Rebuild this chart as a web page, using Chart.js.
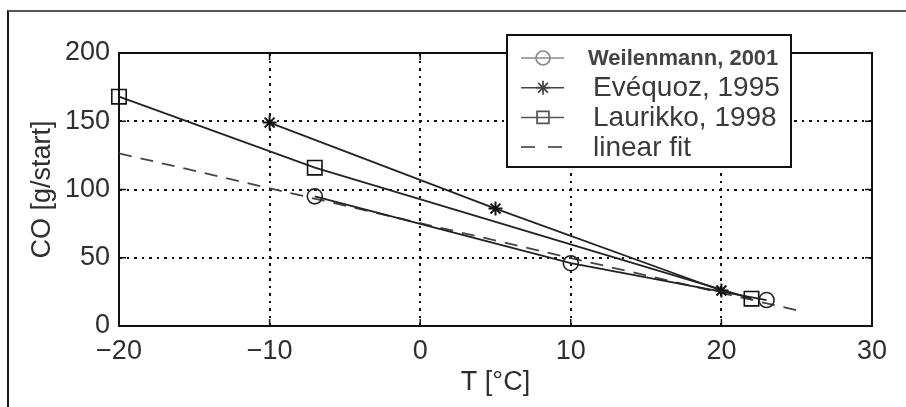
<!DOCTYPE html>
<html>
<head>
<meta charset="utf-8">
<script src="https://cdn.jsdelivr.net/npm/chart.js@4/dist/chart.umd.min.js"></script>
<style>
html, body { margin: 0; padding: 0; background: #fff; overflow: hidden; }
#wrap { position: relative; width: 906px; height: 407px; overflow: hidden; }
#frame { position: absolute; left: 7px; top: 10px; width: 940px; height: 440px;
         border-top: 2px solid #555; border-left: 2px solid #1a1a1a; pointer-events: none; }
</style>
</head>
<body>
<div id="wrap">
  <canvas id="coChart" width="906" height="407"></canvas>
  <div id="frame"></div>
</div>
<script>
// values
const seriesNames = ['Weilenmann, 2001', 'Evéquoz, 1995', 'Laurikko, 1998', 'linear fit'];
const weilT = [-7, 10, 23];
const weilCO = [95, 46, 19];
const eveqT = [-10, 5, 20];
const eveqCO = [149, 86, 26];
const laurT = [-20, -7, 22];
const laurCO = [168, 116, 20];
const fitT = [-20, 25];
const fitCO = [126.5, 11.5];
const xTicks = [-20, -10, 0, 10, 20, 30];
const yTicks = [0, 50, 100, 150, 200];

const FONT = "'Liberation Sans', Arial, sans-serif";
const ink = '#2e2e2e';

function pts(xs, ys) {
    return xs.map((t, i) => ({ x: t, y: ys[i] }));
}

function gridColor(ctx) {
    let first = ctx.index === 0;
    let last = ctx.scale && ctx.index === ctx.scale.ticks.length - 1;
    return (first || last) ? 'rgba(0,0,0,0)' : '#111';
}

// matlab style box with inward ticks
const boxPlugin = {
    id: 'matlabBox',
    beforeDatasetsDraw(chart) {
        const { ctx, chartArea: a, scales: { x, y } } = chart;
        ctx.save();
        ctx.strokeStyle = '#111';
        ctx.lineWidth = 1.5;
        ctx.beginPath();
        xTicks.forEach(v => {
            let px = x.getPixelForValue(v);
            ctx.moveTo(px, a.bottom); ctx.lineTo(px, a.bottom - 7);
            ctx.moveTo(px, a.top); ctx.lineTo(px, a.top + 7);
        });
        yTicks.forEach(v => {
            let py = y.getPixelForValue(v);
            ctx.moveTo(a.left, py); ctx.lineTo(a.left + 7, py);
            ctx.moveTo(a.right, py); ctx.lineTo(a.right - 7, py);
        });
        ctx.stroke();
        ctx.lineWidth = 2;
        ctx.strokeRect(a.left, a.top, a.right - a.left, a.bottom - a.top);
        ctx.restore();
    }
};

function marker(ctx, style, cx, cy, r) {
    ctx.beginPath();
    if (style === 'circle') {
        ctx.arc(cx, cy, r, 0, Math.PI * 2);
    } else if (style === 'rect') {
        ctx.rect(cx - r * 0.85, cy - r * 0.85, r * 1.7, r * 1.7);
    } else if (style === 'star') {
        ctx.moveTo(cx - r, cy); ctx.lineTo(cx + r, cy);
        ctx.moveTo(cx, cy - r); ctx.lineTo(cx, cy + r);
        let d = r * 0.7;
        ctx.moveTo(cx - d, cy - d); ctx.lineTo(cx + d, cy + d);
        ctx.moveTo(cx - d, cy + d); ctx.lineTo(cx + d, cy - d);
    }
    ctx.stroke();
}

const legendPlugin = {
    id: 'boxLegend',
    afterDraw(chart) {
        const ctx = chart.ctx;
        const L = 507, T = 35, R = 791, B = 167;
        ctx.save();
        ctx.fillStyle = '#fff';
        ctx.fillRect(L, T, R - L, B - T);
        ctx.strokeStyle = '#111';
        ctx.lineWidth = 2;
        ctx.strokeRect(L, T, R - L, B - T);
        chart.data.datasets.forEach((ds, i) => {
            let yy = 58 + i * 29.7;
            ctx.strokeStyle = ds.legendColor;
            ctx.lineWidth = 1.5;
            ctx.setLineDash(ds.borderDash ? [14, 13] : []);
            ctx.beginPath();
            ctx.moveTo(521, yy);
            ctx.lineTo(564, yy);
            ctx.stroke();
            ctx.setLineDash([]);
            ctx.lineWidth = 1.7;
            if (ds.pointRadius) marker(ctx, ds.pointStyle, 543, yy, 7);
            ctx.textBaseline = 'middle';
            ctx.textAlign = 'left';
            if (i === 0) {
                ctx.font = 'bold 22px ' + FONT;
                ctx.fillStyle = '#444';
                ctx.fillText(ds.label, 588, yy + 1);
            } else {
                ctx.font = '28px ' + FONT;
                ctx.fillStyle = '#3a3a3a';
                ctx.fillText(ds.label, 593, yy + 1);
            }
        });
        ctx.restore();
    }
};

const common = {
    showLine: true,
    fill: false,
    tension: 0,
    clip: false,
    borderWidth: 1.8,
    pointBorderWidth: 1.6,
    pointBackgroundColor: 'rgba(0,0,0,0)'
};

new Chart(document.getElementById('coChart'), {
    type: 'scatter',
    data: {
        datasets: [
            Object.assign({}, common, {
                label: seriesNames[0], data: pts(weilT, weilCO),
                borderColor: '#222', pointBorderColor: '#222',
                pointStyle: 'circle', pointRadius: 7.5, legendColor: '#8a8a8a'
            }),
            Object.assign({}, common, {
                label: seriesNames[1], data: pts(eveqT, eveqCO),
                borderColor: '#222', pointBorderColor: '#111',
                pointStyle: 'star', pointRadius: 7, pointBorderWidth: 2, legendColor: '#444'
            }),
            Object.assign({}, common, {
                label: seriesNames[2], data: pts(laurT, laurCO),
                borderColor: '#222', pointBorderColor: '#111',
                pointStyle: 'rect', pointRadius: 10.2, legendColor: '#555'
            }),
            Object.assign({}, common, {
                label: seriesNames[3], data: pts(fitT, fitCO),
                borderColor: '#444', borderDash: [13, 9],
                pointRadius: 0, legendColor: '#333'
            })
        ]
    },
    options: {
        responsive: false,
        animation: false,
        events: [],
        layout: { padding: { top: 53, right: 34, left: 0, bottom: 0 } },
        plugins: {
            legend: { display: false },
            tooltip: { enabled: false }
        },
        scales: {
            x: {
                type: 'linear', min: -20, max: 30,
                afterBuildTicks: s => { s.ticks = xTicks.map(v => ({ value: v })); },
                afterFit: s => { s.height = 81; },
                grid: { color: gridColor, lineWidth: 2, drawTicks: false },
                border: { display: false, dash: [3, 5, 2, 5] },
                ticks: {
                    padding: 9, color: ink, font: { family: FONT, size: 27 },
                    callback: v => String(v).replace('-', '\u2212')
                },
                title: {
                    display: true, text: 'T [°C]', color: ink,
                    font: { family: FONT, size: 27 }, padding: { top: 0, bottom: 8 }
                }
            },
            y: {
                type: 'linear', min: 0, max: 200,
                afterBuildTicks: s => { s.ticks = yTicks.map(v => ({ value: v })); },
                afterFit: s => { s.width = 119; },
                grid: { color: gridColor, lineWidth: 2, drawTicks: false },
                border: { display: false, dash: [3, 5, 2, 5] },
                ticks: { padding: 9, color: ink, font: { family: FONT, size: 27 } },
                title: {
                    display: true, text: 'CO [g/start]', color: ink,
                    font: { family: FONT, size: 27 }, padding: { top: 26, bottom: 0 }
                }
            }
        }
    },
    plugins: [boxPlugin, legendPlugin]
});
</script>
</body>
</html>
